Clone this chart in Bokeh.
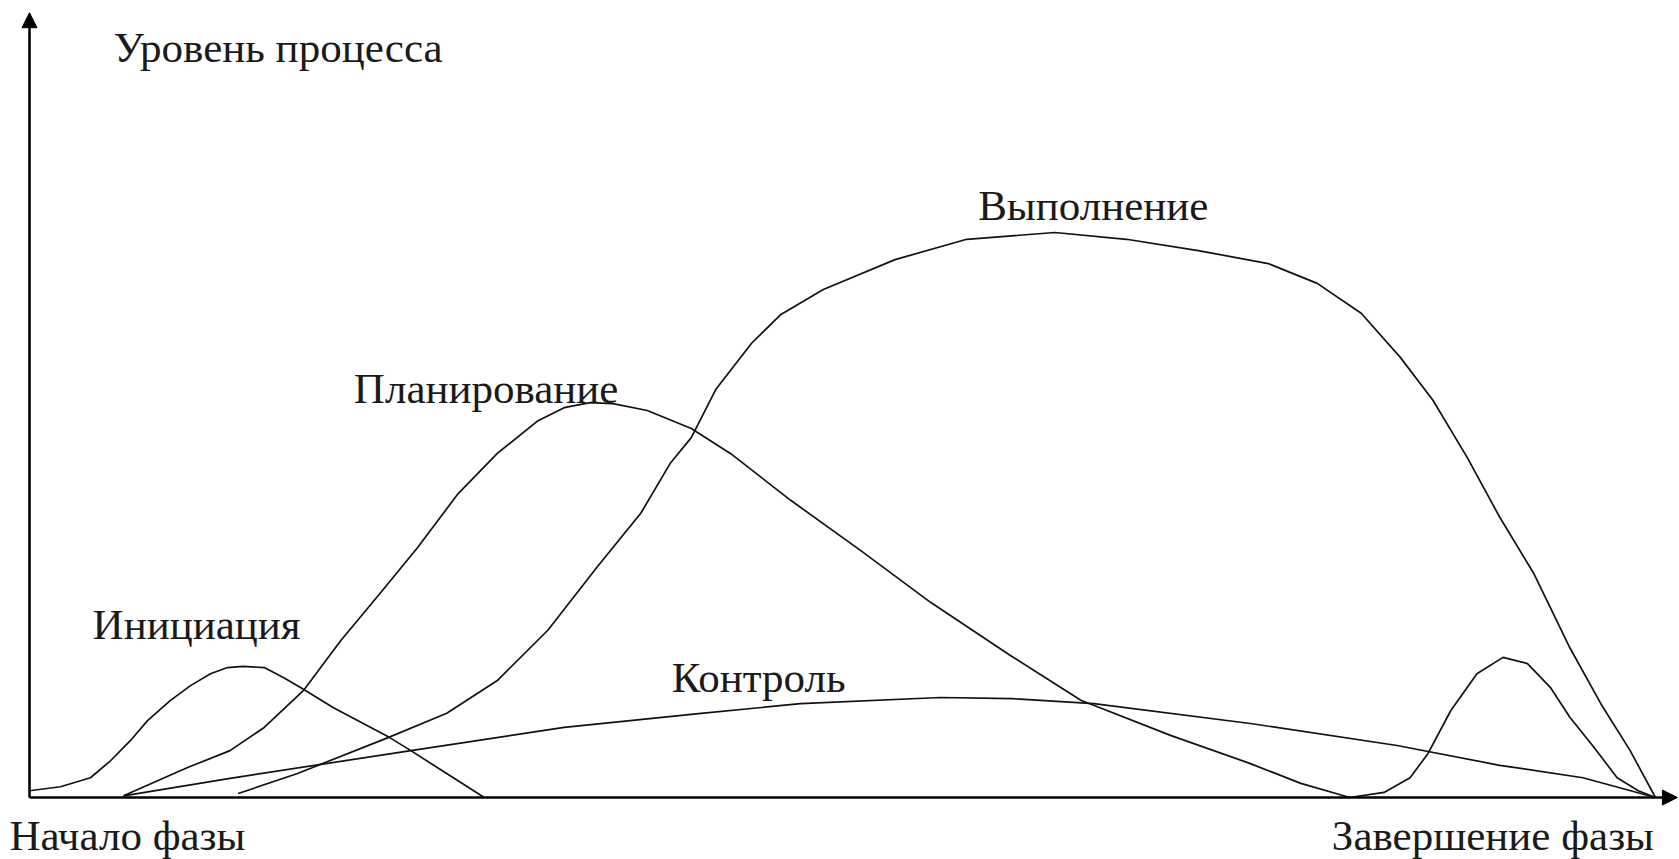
from bokeh.plotting import figure
from bokeh.models import Range1d, Arrow, NormalHead, ColumnDataSource
from bokeh.core.properties import value
from bokeh.embed import file_html
from bokeh.resources import INLINE

# Phase progress (0..100) and process level (0..100, execution peak = 100)
init_x = [0, 1.9, 3.74, 4.97, 6.2, 7.24, 8.65, 9.88, 11.1, 12.15, 13.1, 14.4, 15.6, 16.6,
          18.65, 22.1, 23.4, 24.8, 27.9]
init_y = [1.2, 1.9, 3.5, 6.5, 10.1, 13.6, 17.2, 19.8, 21.9, 23.0, 23.2, 23.0, 21.2, 19.5,
          15.9, 10.6, 8.3, 5.7, 0]

plan_x = [5.77, 9.7, 12.3, 14.4, 16.8, 19.1, 21.5, 23.8, 26.3, 28.7, 31.2, 32.8, 34.4,
          35.8, 37.9, 40.6, 43.0, 46.7, 51.0, 55.3, 60.2, 64.5, 70.0, 74.9, 78.0, 81.0]
plan_y = [0.3, 5.3, 8.3, 12.4, 18.9, 27.8, 36.1, 44.2, 53.8, 60.9, 66.7, 69.0, 69.9,
          69.7, 68.5, 65.3, 60.9, 52.6, 43.7, 34.5, 25.1, 17.2, 11.0, 6.0, 2.5, 0]

exec_x = [12.8, 16.4, 22.0, 25.6, 28.7, 31.8, 34.8, 37.5, 39.3, 40.6, 42.1, 44.3, 46.1,
          48.7, 53.1, 57.5, 62.9, 67.3, 71.7, 76.0, 79.0, 81.7, 84.1, 86.1, 88.2, 90.2,
          92.3, 94.5, 96.4, 98.2, 99.75]
exec_y = [0.7, 4.2, 10.6, 14.9, 20.7, 29.6, 40.7, 50.3, 59.1, 63.7, 72.2, 80.4, 85.5,
          89.9, 95.2, 98.8, 100, 98.8, 96.8, 94.5, 91.0, 85.7, 77.9, 70.3, 60.2, 49.6,
          39.6, 26.5, 16.6, 8.3, 0]

ctrl_x = [5.77, 12.3, 23.4, 32.8, 41.2, 47.3, 55.9, 60.3, 65.3, 74.9, 83.9, 90.2, 95.3, 99.75]
ctrl_y = [0.3, 3.4, 8.3, 12.4, 14.9, 16.6, 17.7, 17.5, 16.6, 13.1, 9.2, 5.7, 3.5, 0]

close_x = [81.0, 83.1, 84.7, 85.8, 87.2, 88.8, 90.4, 91.9, 93.3, 94.5, 96.0, 97.4, 98.7, 99.75]
close_y = [0, 0.9, 3.5, 7.8, 15.4, 21.9, 24.8, 23.7, 19.5, 14.2, 8.8, 3.5, 1.2, 0]

labels = ["Уровень процесса", "Выполнение", "Планирование", "Инициация",
          "Контроль", "Начало фазы", "Завершение фазы"]
label_x = [5.15, 58.2, 19.9, 3.87, 39.4, -1.23, 79.9]
label_y = [132.7, 104.7, 72.4, 30.6, 21.2, -6.8, -6.8]

W, H = 1679, 859
p = figure(width=W, height=H, output_backend="svg", toolbar_location=None,
           x_axis_location=None, y_axis_location=None, min_border=0,
           x_range=Range1d(-1.7791, 101.227), y_range=Range1d(-10.973, 141.062))
p.grid.visible = False
p.outline_line_color = None
p.background_fill_color = "white"
p.border_fill_color = "white"

lc = "#111111"
for xs, ys in [(init_x, init_y), (plan_x, plan_y), (exec_x, exec_y),
               (ctrl_x, ctrl_y), (close_x, close_y)]:
    p.line(xs, ys, line_color=lc, line_width=1.7, line_join="round")

# axes with arrow heads
p.add_layout(Arrow(end=NormalHead(size=15, fill_color="black", line_color="black"),
                   x_start=0, y_start=0, x_end=0, y_end=138.9,
                   line_width=2.6, line_color="black"))
p.add_layout(Arrow(end=NormalHead(size=15, fill_color="black", line_color="black"),
                   x_start=0, y_start=0, x_end=101.1, y_end=0,
                   line_width=2.6, line_color="black"))

src = ColumnDataSource(dict(x=label_x, y=label_y, t=labels))
p.text(x="x", y="y", text="t", source=src, text_font=value("Liberation Serif"),
       text_font_size=value("43px"), text_align="left", text_baseline="alphabetic",
       text_color="#1a1a1a")

open("out.html", "w").write(file_html(p, INLINE))
